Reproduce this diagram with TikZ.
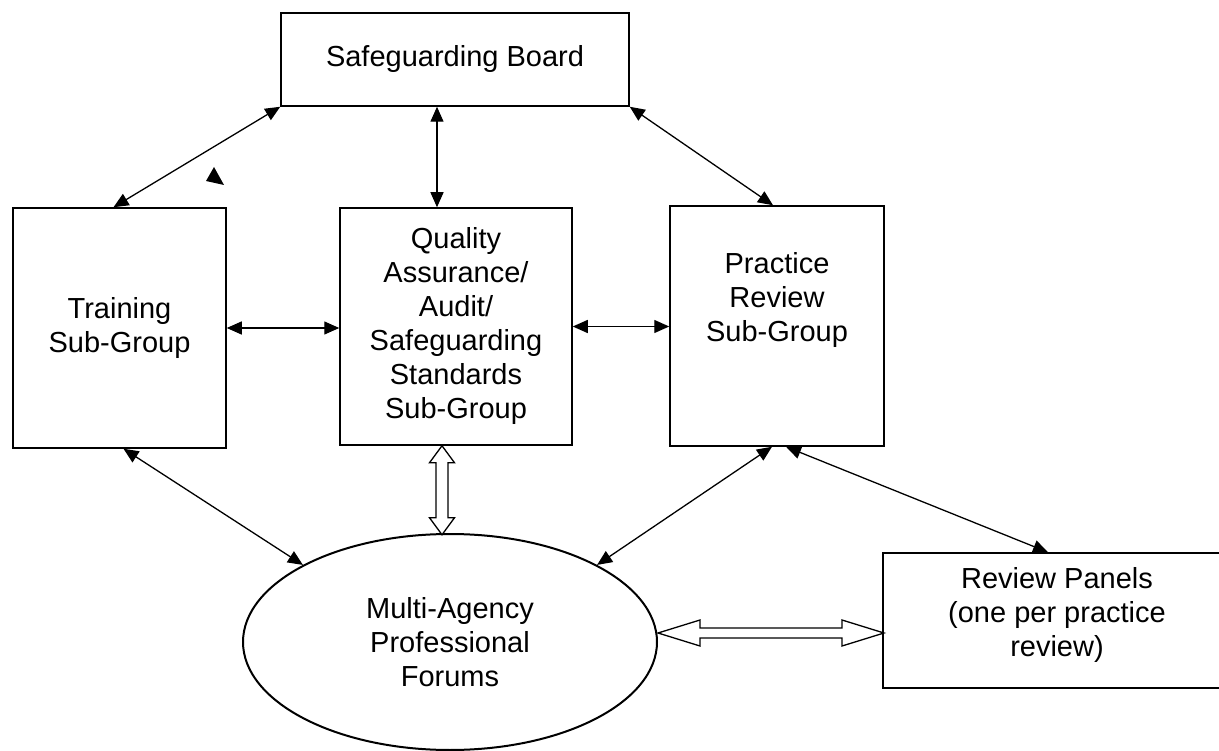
\documentclass[tikz,border=0pt]{standalone}
\usepackage{fontspec}
\setmainfont{Liberation Sans}
\usetikzlibrary{shapes.geometric,arrows.meta}

\begin{document}
\begin{tikzpicture}[x=1pt,y=-1pt,
  box/.style={draw,line width=1.5pt,align=center,inner sep=0pt,font=\fontsize{29}{34}\selectfont},
  link/.style={{Triangle[length=15pt,width=13pt]}-{Triangle[length=15pt,width=13pt]},line width=1.3pt},
  hollow/.style={draw,fill=white,line width=1.3pt,line join=miter}]
 \useasboundingbox (0,0) rectangle (1219,751);
 \node[box,minimum width=348,minimum height=93] (board) at (455,59.5) {Safeguarding Board};
 \node[box,minimum width=213,minimum height=240] (train) at (119.5,328) {Training\\Sub-Group};
 \node[box,minimum width=232,minimum height=237] (qa) at (456,326.5) {Quality\\Assurance/\\Audit/\\Safeguarding\\Standards\\Sub-Group};
 \node[box,minimum width=214,minimum height=240] (prac) at (777,326) {};
 \node[box,draw=none] (practext) at ([yshift=26]prac.center) {Practice\\Review\\Sub-Group};
 \node[box,ellipse,line width=2pt,minimum width=414,minimum height=216] (forum) at (450,642) {Multi-Agency\\Professional\\Forums};
 \node[box,minimum width=348,minimum height=135] (panels) at (1057,620.5) {};
 \node[box,draw=none] (panelstext) at ([yshift=6]panels.center) {Review Panels\\(one per practice\\review)};
 % board links
 \draw[link] (board.south west) -- ([xshift=-6]train.north);
 \draw[link] ([xshift=-18]board.south) -- ([xshift=-18]board.south |- qa.north);
 \draw[link] (board.south east) -- ([xshift=-4]prac.north);
 \fill (214,167) -- (206,181) -- (224,185) -- cycle;
 % sub-group links
 \draw[link] (train.east) -- (train.east -| qa.west);
 \draw[link] (qa.east) -- (qa.east -| prac.west);
 \draw[link] ([xshift=4]train.south) -- (forum.north west);
 \draw[link] ([xshift=-5]prac.south) -- (forum.north east);
 \draw[link] ([xshift=9]prac.south) -- ([xshift=-9]panels.north);
 % hollow arrows
 \coordinate (qatip) at ([xshift=-14]qa.south);
 \draw[hollow] (qatip) -- ++(12.5,17) -- ++(-6.5,0) -- ++(0,55) -- ++(6.5,0) -- ++(-12.5,17)
   -- ++(-12.5,-17) -- ++(6.5,0) -- ++(0,-55) -- ++(-6.5,0) -- cycle;
 \coordinate (forumtip) at ([yshift=9]forum.east);
 \draw[hollow] (forumtip) -- ++(42,-13) -- ++(0,8) -- ++(142,0) -- ++(0,-8) -- ++(42,13)
   -- ++(-42,13) -- ++(0,-8) -- ++(-142,0) -- ++(0,8) -- cycle;
\end{tikzpicture}
\end{document}
